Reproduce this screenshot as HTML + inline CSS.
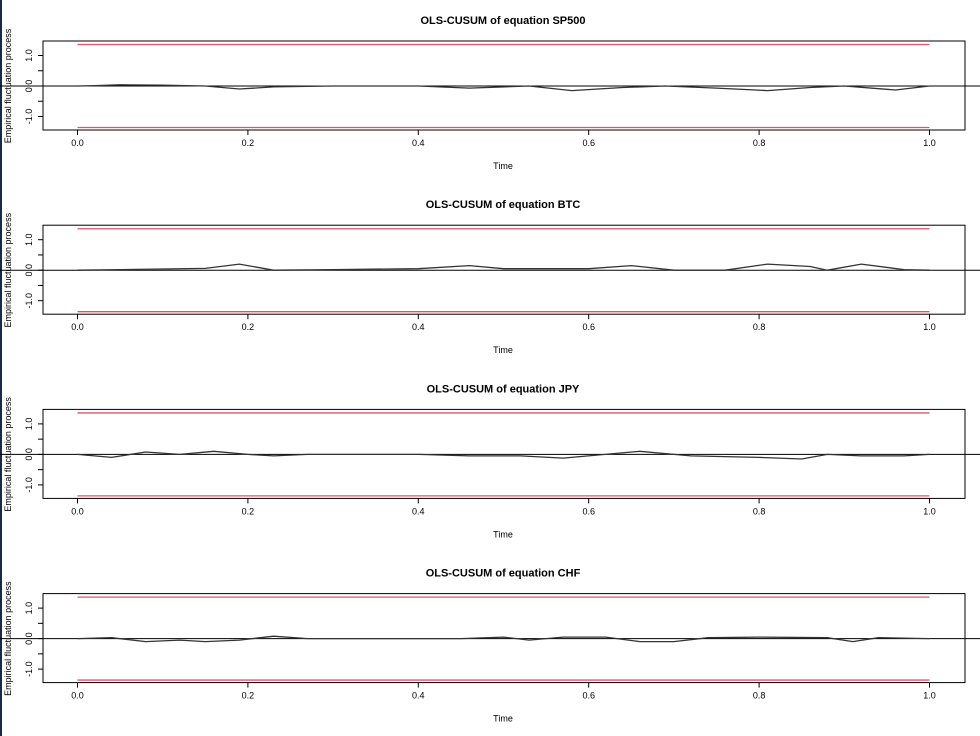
<!DOCTYPE html>
<html><head><meta charset="utf-8"><style>
html,body{margin:0;padding:0;background:#fff;}
svg{display:block;font-family:"Liberation Sans",Arial,sans-serif;}
</style></head><body>
<svg id="c" width="980" height="736" xmlns="http://www.w3.org/2000/svg">
<rect x="0" y="0" width="2" height="736" fill="#1b2a44"/>
</svg>
<script>
const panelNames = ["SP500","BTC","JPY","CHF"];
const times = {
 SP500:[0,0.02,0.05,0.1,0.15,0.19,0.23,0.3,0.4,0.46,0.53,0.58,0.64,0.69,0.75,0.81,0.86,0.9,0.96,1.0],
 BTC:[0,0.05,0.15,0.19,0.23,0.3,0.4,0.46,0.5,0.6,0.65,0.7,0.76,0.81,0.86,0.88,0.92,0.97,1.0],
 JPY:[0,0.04,0.08,0.12,0.16,0.2,0.23,0.27,0.4,0.46,0.52,0.57,0.66,0.72,0.8,0.85,0.88,0.92,0.97,1.0],
 CHF:[0,0.04,0.08,0.12,0.15,0.19,0.23,0.27,0.45,0.5,0.53,0.57,0.62,0.66,0.7,0.74,0.8,0.88,0.91,0.94,1.0]
};
const values = {
 SP500:[0,0.01,0.04,0.03,0,-0.1,-0.03,0,0,-0.07,0,-0.15,-0.05,0,-0.07,-0.15,-0.05,0,-0.13,0],
 BTC:[0,0.02,0.06,0.2,0,0.02,0.05,0.15,0.05,0.05,0.15,0,0,0.2,0.12,0,0.2,0.02,0],
 JPY:[0,-0.1,0.08,0,0.1,0,-0.05,0,0,-0.05,-0.05,-0.12,0.1,-0.05,-0.1,-0.15,0,-0.05,-0.05,0],
 CHF:[0,0.03,-0.1,-0.05,-0.1,-0.05,0.08,0,0,0.05,-0.05,0.05,0.05,-0.1,-0.1,0.03,0.05,0.03,-0.1,0.03,0]
};
const boundary = 1.36;
const xTicks = [0,0.2,0.4,0.6,0.8,1.0];
const xTickLabels = ["0.0","0.2","0.4","0.6","0.8","1.0"];
const yTicks = [-1,-0.5,0,0.5,1];
const yLabelVals = [-1,0,1];
const yLabelText = ["-1.0","0.0","1.0"];

const svg = document.getElementById('c');
const NS = "http://www.w3.org/2000/svg";
function mk(tag, attrs, parent){const e=document.createElementNS(NS,tag);for(const k in attrs)e.setAttribute(k,attrs[k]);(parent||svg).appendChild(e);return e;}
const X = t => 77.5 + t*852;

panelNames.forEach((name,i)=>{
 const top = 41 + i*184.2, bottom = top+89, zero = top+45;
 const Y = v => zero - v*30.5;
 const g = mk('g',{});
 
 
 const title = mk('text',{x:503,y:top-17,'text-anchor':'middle','font-size':'11','font-weight':'bold'},g);
 title.textContent = "OLS-CUSUM of equation "+name;
 
 
 const box = mk('rect',{x:43,y:top,width:922,height:89,fill:'none',stroke:'#000','stroke-width':1},g);
 
 
 [boundary,-boundary].forEach(b=>{
  const l = mk('line',{x1:X(0),x2:X(1),y1:Y(b),y2:Y(b),stroke:'#df536b','stroke-width':1.3},g);
  
  
 });
 const z = mk('line',{x1:0,x2:980,y1:Y(0),y2:Y(0),stroke:'#000','stroke-width':1},g);
 
 
 const pts = times[name].map((t,j)=>X(t).toFixed(1)+','+Y(values[name][j]).toFixed(1)).join(' ');
 const pl = mk('polyline',{points:pts,fill:'none',stroke:'#333','stroke-width':1.3},g);
 
 
 xTicks.forEach((t,j)=>{
  mk('line',{x1:X(t),x2:X(t),y1:bottom,y2:bottom+5,stroke:'#000'},g);
  const tl = mk('text',{x:X(t),y:bottom+16,'text-anchor':'middle','font-size':'9'},g);
  tl.textContent = xTickLabels[j];
  
  
 });
 yTicks.forEach(v=>{mk('line',{x1:38,x2:43,y1:Y(v),y2:Y(v),stroke:'#000'},g);});
 yLabelVals.forEach((v,j)=>{
  const tl = mk('text',{x:0,y:0,'text-anchor':'middle','font-size':'9',transform:`translate(32,${Y(v)}) rotate(-90)`},g);
  tl.textContent = yLabelText[j];
  
  
 });
 const xt = mk('text',{x:503,y:bottom+39,'text-anchor':'middle','font-size':'9'},g);
 xt.textContent = "Time";
 
 
 const yt = mk('text',{x:0,y:0,'text-anchor':'middle','font-size':'9',transform:`translate(11,${zero}) rotate(-90)`},g);
 yt.textContent = "Empirical fluctuation process";
 
 
});
</script>
</body></html>
